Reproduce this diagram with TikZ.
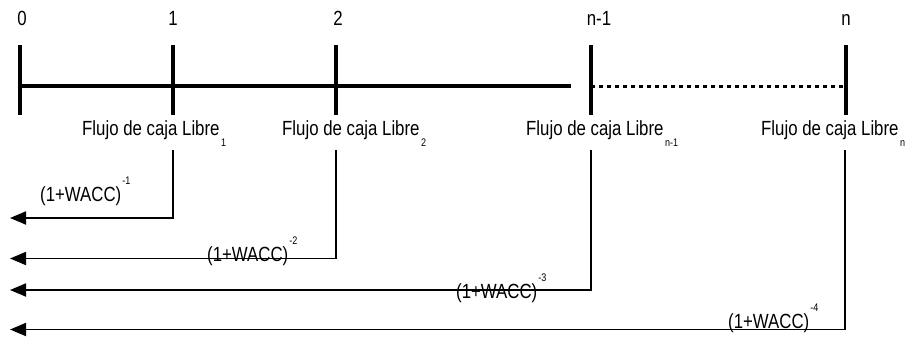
\documentclass[tikz,border=0pt]{standalone}
\usepackage{fontspec}
\setmainfont[FakeStretch=0.82]{Liberation Sans}
\usetikzlibrary{arrows.meta}

\newcommand{\lowidx}[1]{\kern1.5pt\raisebox{-11.5pt}{\fontsize{11}{12}\selectfont #1}}
\newcommand{\highidx}[1]{\kern1pt\raisebox{17pt}{\fontsize{11}{12}\selectfont #1}}

\begin{document}
\begin{tikzpicture}[
  x=1pt,y=-1pt,
  lbl/.style={inner sep=0pt,font=\fontsize{20.5}{24}\selectfont},
  tickmark/.style={line width=3.3pt},
  axisline/.style={line width=3.3pt},
  arr/.style={-{Triangle[length=16pt,width=13pt]},line width=1.8pt}
]
\useasboundingbox (0,0) rectangle (908,341);

% time axis
\coordinate (p0) at (20,86);
\coordinate (p1) at (173,86);
\coordinate (p2) at (336,86);
\coordinate (pn1) at (591,86);
\coordinate (pn) at (846,86);
\coordinate (gap) at (571,86);

\draw[axisline] (p0) -- (gap);
\draw[axisline,line width=3pt,dash pattern=on 4pt off 4pt] (pn1) -- (pn);
\foreach \p in {p0,p1,p2,pn1,pn}
  \draw[tickmark] ([yshift=41pt]\p) -- ([yshift=-29pt]\p);

\node[lbl,anchor=base] (l0)  at (22,25)  {0};
\node[lbl,anchor=base] (l1)  at (173,25) {1};
\node[lbl,anchor=base] (l2)  at (338,25) {2};
\node[lbl,anchor=base] (ln1) at (599,25) {n-1};
\node[lbl,anchor=base] (ln)  at (846,25) {n};

% cash flows
\node[lbl,anchor=base west] (f1)  at (82,135)  {Flujo de caja Libre\lowidx{1}};
\node[lbl,anchor=base west] (f2)  at (282,135) {Flujo de caja Libre\lowidx{2}};
\node[lbl,anchor=base west] (fn1) at (526,135) {Flujo de caja Libre\lowidx{n-1}};
\node[lbl,anchor=base west] (fn)  at (761,135) {Flujo de caja Libre\lowidx{n}};

% discounting back to 0
\coordinate (d1) at (173,150);
\coordinate (d2) at (336,150);
\coordinate (dn1) at (591,150);
\coordinate (dn) at (845,150);
\coordinate (e1) at (10,218);
\coordinate (e2) at (10,258.5);
\coordinate (en1) at (10,290);
\coordinate (en) at (10,329.5);

\draw[arr] (d1) |- (e1);
\draw[arr] (d2) |- (e2);
\draw[arr] (dn1) |- (en1);
\draw[arr] (dn) |- (en);

\node[lbl,anchor=base west] (w1) at (40,201.5)  {(1+WACC)\highidx{-1}};
\node[lbl,anchor=base west] (w2) at (207,261)   {(1+WACC)\highidx{-2}};
\node[lbl,anchor=base west] (w3) at (456,298)   {(1+WACC)\highidx{-3}};
\node[lbl,anchor=base west] (w4) at (728,328.5) {(1+WACC)\highidx{-4}};
\end{tikzpicture}
\end{document}
